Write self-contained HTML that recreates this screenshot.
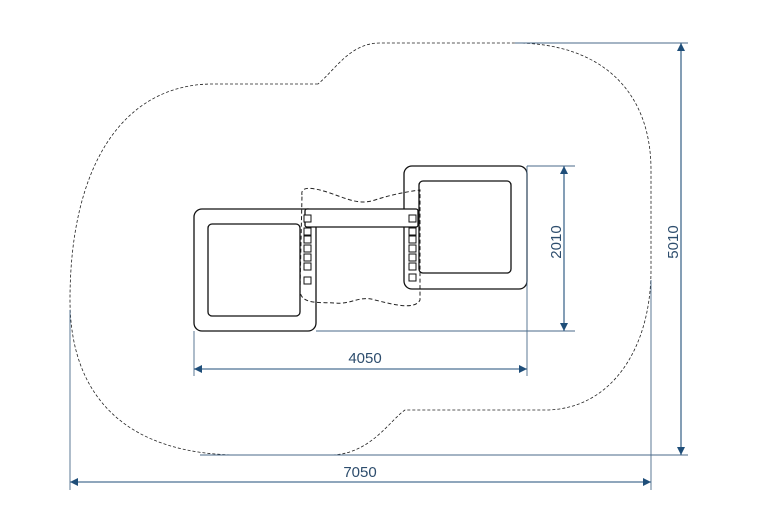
<!DOCTYPE html>
<html><head><meta charset="utf-8"><style>html,body{margin:0;padding:0;background:#fff}svg{display:block}</style></head>
<body>
<svg width="757" height="529" viewBox="0 0 757 529" xmlns="http://www.w3.org/2000/svg">
<defs>
<marker id="a" viewBox="0 0 10 10" refX="10" refY="5" markerWidth="12" markerHeight="8" markerUnits="userSpaceOnUse" orient="auto"><path d="M0,0 L10,5 L0,10 z" fill="#1f4e79"/></marker>
</defs>
<!-- outer dashed outline -->
<path d="M318,84 L210,84 C120,86 70,170 70,300 C70,400 130,455 240,455 L330,455 C370,455 390,420 405,410 L545,410 C610,410 651,350 651,270 L651,170 C651,90 600,43 515,43 L380,43 C350,43 335,70 318,84 Z" fill="none" stroke="#222" stroke-width="0.8" stroke-dasharray="3,2"/>
<!-- inner dashed blob -->
<path d="M302,195 C300,185 315,188 330,193 C350,200 360,205 375,200 C390,195 405,192 420,190 L420,300 C415,310 395,305 375,300 C360,295 350,305 335,303 C320,302 300,305 300,290 Z" fill="none" stroke="#222" stroke-width="1" stroke-dasharray="4,2.5"/>
<g fill="none" stroke="#111" stroke-width="1.3">
<rect x="194" y="209" width="122" height="122" rx="8"/>
<rect x="208" y="224" width="92" height="92" rx="4"/>
<rect x="404" y="166" width="123" height="123" rx="8"/>
<rect x="419" y="181" width="92" height="92" rx="4"/>
<rect x="305" y="209" width="113" height="18" rx="2" fill="#fff"/>
</g>
<g fill="#fff" stroke="#111" stroke-width="1">
<rect x="304" y="215" width="7" height="7"/><rect x="304" y="228" width="7" height="7"/><rect x="304" y="236" width="7" height="7"/><rect x="304" y="245" width="7" height="7"/><rect x="304" y="254" width="7" height="7"/><rect x="304" y="263" width="7" height="7"/><rect x="304" y="277" width="7" height="7"/>
<rect x="409" y="215" width="7" height="7"/><rect x="409" y="228" width="7" height="7"/><rect x="409" y="236" width="7" height="7"/><rect x="409" y="245" width="7" height="7"/><rect x="409" y="254" width="7" height="7"/><rect x="409" y="263" width="7" height="7"/><rect x="409" y="274" width="7" height="7"/>
</g>
<g stroke="#4a6a8a" stroke-width="0.9" fill="none">
<line x1="194" y1="331" x2="194" y2="376"/><line x1="527" y1="166" x2="527" y2="376"/>
<line x1="527" y1="166" x2="575" y2="166"/><line x1="316" y1="331" x2="575" y2="331"/>
<line x1="515" y1="43" x2="688" y2="43"/><line x1="200" y1="455" x2="688" y2="455"/>
<line x1="70" y1="310" x2="70" y2="490"/><line x1="651" y1="280" x2="651" y2="490"/>
</g>
<g stroke="#1f4e79" stroke-width="1.1">
<line x1="200" y1="369" x2="194" y2="369"/>
<line x1="360" y1="369" x2="194" y2="369" marker-end="url(#a)"/><line x1="360" y1="369" x2="527" y2="369" marker-end="url(#a)"/>
<line x1="564" y1="250" x2="564" y2="166" marker-end="url(#a)"/><line x1="564" y1="250" x2="564" y2="331" marker-end="url(#a)"/>
<line x1="681" y1="250" x2="681" y2="43" marker-end="url(#a)"/><line x1="681" y1="250" x2="681" y2="455" marker-end="url(#a)"/>
<line x1="360" y1="482" x2="70" y2="482" marker-end="url(#a)"/><line x1="360" y1="482" x2="651" y2="482" marker-end="url(#a)"/>
</g>
<g font-family="Liberation Sans, sans-serif" font-size="15" fill="#2d4d6d" text-anchor="middle">
<text x="365" y="363">4050</text>
<text x="360" y="477">7050</text>
<text transform="translate(561,242) rotate(-90)">2010</text>
<text transform="translate(678,242) rotate(-90)">5010</text>
</g>
</svg>
</body></html>
